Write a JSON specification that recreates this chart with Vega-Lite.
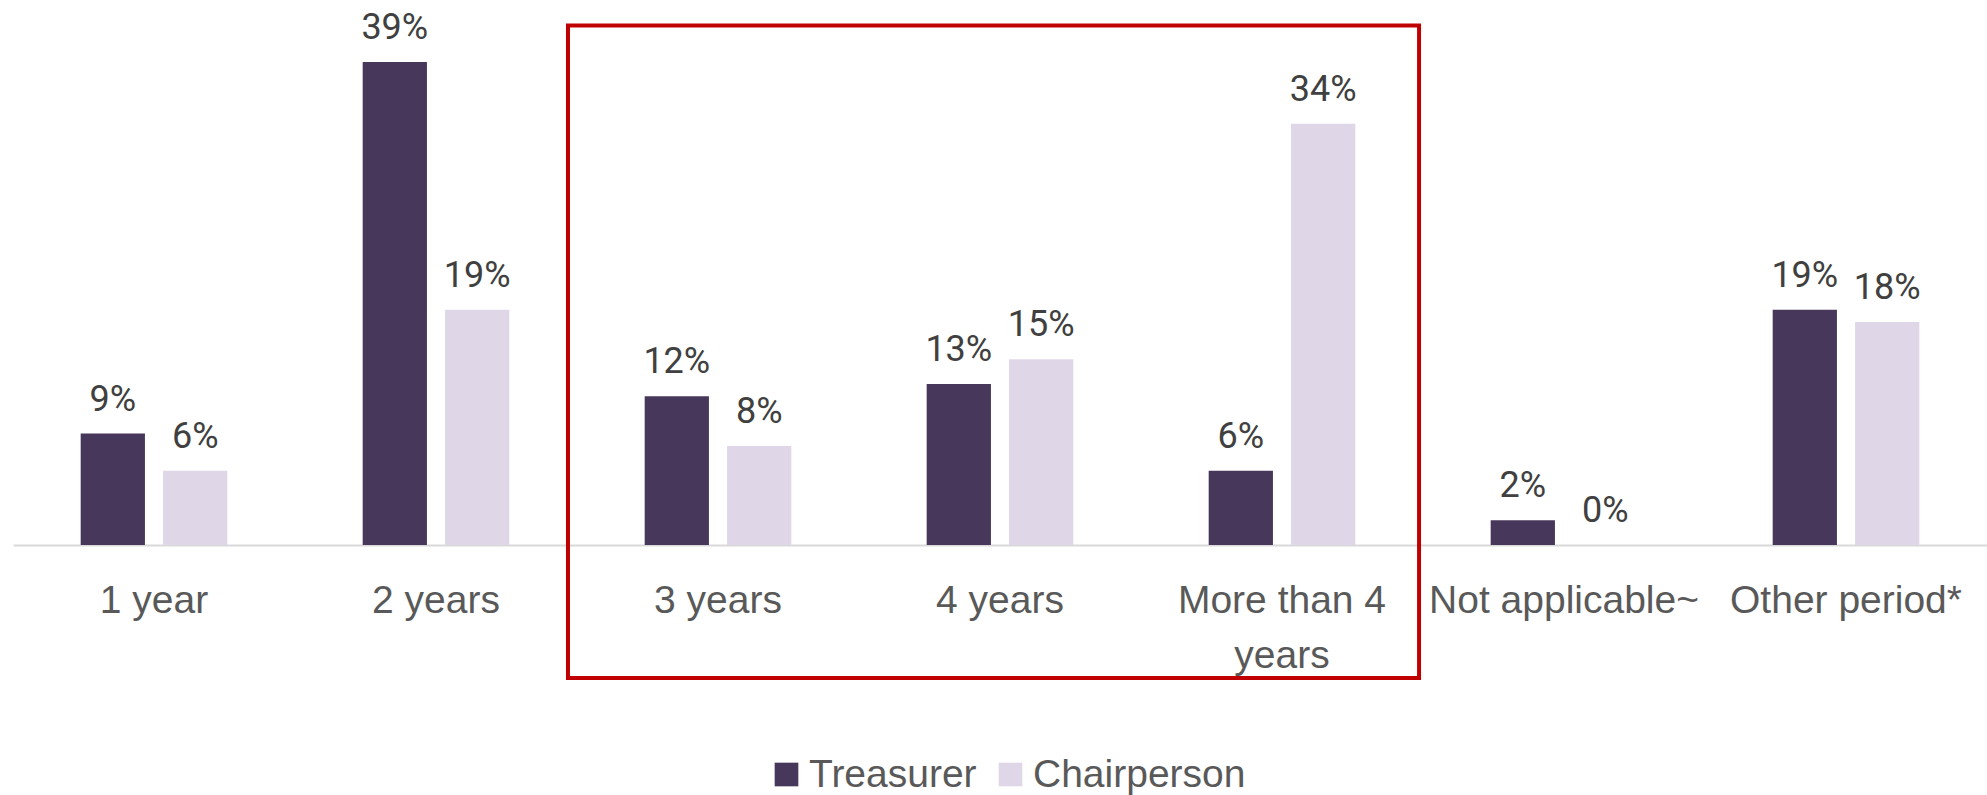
{
  "$schema": "https://vega.github.io/schema/vega-lite/v6.json",
  "autosize": {"type": "none"},
  "width": 1974,
  "height": 545,
  "padding": {"left": 13, "top": 0, "right": 0, "bottom": 250},
  "background": "white",
  "config": {"view": {"stroke": null}},
  "datasets": {
    "bars": [
      {"period": "1 year", "role": "Treasurer", "share": 0.09},
      {"period": "1 year", "role": "Chairperson", "share": 0.06},
      {"period": "2 years", "role": "Treasurer", "share": 0.39},
      {"period": "2 years", "role": "Chairperson", "share": 0.19},
      {"period": "3 years", "role": "Treasurer", "share": 0.12},
      {"period": "3 years", "role": "Chairperson", "share": 0.08},
      {"period": "4 years", "role": "Treasurer", "share": 0.13},
      {"period": "4 years", "role": "Chairperson", "share": 0.15},
      {"period": "More than 4 years", "role": "Treasurer", "share": 0.06},
      {"period": "More than 4 years", "role": "Chairperson", "share": 0.34},
      {"period": "Not applicable~", "role": "Treasurer", "share": 0.02},
      {"period": "Not applicable~", "role": "Chairperson", "share": 0.0},
      {"period": "Other period*", "role": "Treasurer", "share": 0.19},
      {"period": "Other period*", "role": "Chairperson", "share": 0.18}
    ],
    "box": [
      {"from": 1.968, "to": 4.986, "top": 0.4194, "bottom": -0.1073}
    ]
  },
  "layer": [
    {
      "data": {"name": "bars"},
      "layer": [
        {
          "mark": {"type": "bar"},
          "encoding": {
            "x": {
              "field": "period", "type": "nominal", "sort": null,
              "scale": {"paddingInner": 0.48, "paddingOuter": 0.24},
              "axis": {
                "title": null, "labelAngle": 0, "ticks": false,
                "domainColor": "#D9D9D9", "domainWidth": 2,
                "labelFont": "Liberation Sans", "labelFontSize": 39,
                "labelColor": "#595959", "labelPadding": 36,
                "labelBaseline": "top", "labelLineHeight": 55,
                "labelLimit": 400,
                "labelExpr": "datum.value == 'More than 4 years' ? ['More than 4', 'years'] : datum.value"
              }
            },
            "xOffset": {"field": "role", "type": "nominal", "sort": ["Treasurer", "Chairperson"], "scale": {"paddingInner": 0.22, "paddingOuter": 0}},
            "y": {"field": "share", "type": "quantitative", "scale": {"domain": [0, 0.44], "nice": false}, "axis": null},
            "color": {
              "field": "role", "type": "nominal", "sort": ["Treasurer", "Chairperson"],
              "scale": {"domain": ["Treasurer", "Chairperson"], "range": ["#47375A", "#DFD7E8"]},
              "legend": {
                "title": null, "orient": "none", "direction": "horizontal",
                "legendX": 754, "legendY": 755, "gridAlign": "none",
                "symbolType": "square", "symbolSize": 560, "symbolStrokeWidth": 0,
                "labelFont": "Liberation Sans", "labelFontSize": 39, "labelColor": "#595959",
                "labelLimit": 400,
                "labelOffset": 3, "columnPadding": 14, "padding": 0
              }
            }
          }
        },
        {
          "mark": {"type": "text", "font": "Roboto", "fontSize": 36, "color": "#404040", "baseline": "alphabetic", "dy": -23},
          "encoding": {
            "x": {"field": "period", "type": "nominal", "sort": null},
            "xOffset": {"field": "role", "type": "nominal", "sort": ["Treasurer", "Chairperson"]},
            "y": {"field": "share", "type": "quantitative"},
            "text": {"field": "share", "type": "quantitative", "format": ".0%"},
            "detail": {"field": "role"}
          }
        }
      ]
    },
    {
      "data": {"name": "box"},
      "mark": {"type": "rect", "filled": false, "stroke": "#C00000", "strokeWidth": 4},
      "encoding": {
        "x": {"field": "from", "type": "quantitative", "scale": {"domain": [0, 7], "nice": false, "zero": false}, "axis": null},
        "x2": {"field": "to"},
        "y": {"field": "top", "type": "quantitative"},
        "y2": {"field": "bottom"}
      }
    }
  ],
  "resolve": {"scale": {"x": "independent"}}
}
